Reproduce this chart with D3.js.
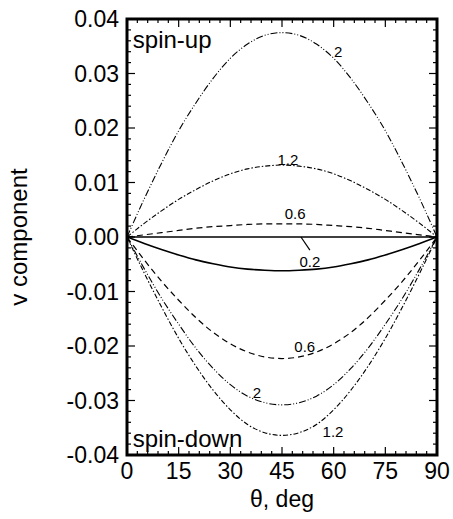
<!DOCTYPE html>
<html>
<head>
<meta charset="utf-8">
<script src="https://cdn.jsdelivr.net/npm/d3@7"></script>
<style>
  body { margin: 0; background: #fff; }
  text { font-family: "Liberation Sans", Arial, Helvetica, sans-serif; fill: #000; }
</style>
</head>
<body>
<svg id="chart"></svg>
<script>
// theta samples (deg) and v component per curve
const theta = [0, 5, 10, 15, 20, 25, 30, 35, 40, 45, 50, 55, 60, 65, 70, 75, 80, 85, 90];

const up2   = [0, 0.0070, 0.0135, 0.0195, 0.0246, 0.0291, 0.0328, 0.0354, 0.0370, 0.0375, 0.0370, 0.0354, 0.0328, 0.0291, 0.0246, 0.0195, 0.0135, 0.0070, 0];
const up12  = [0, 0.0025, 0.0048, 0.0069, 0.0087, 0.0103, 0.0116, 0.0125, 0.0130, 0.0132, 0.0130, 0.0125, 0.0116, 0.0103, 0.0087, 0.0069, 0.0048, 0.0025, 0];
const up06  = [0, 0.0004, 0.0008, 0.0012, 0.0016, 0.0019, 0.0021, 0.0023, 0.0024, 0.0024, 0.0024, 0.0023, 0.0021, 0.0019, 0.0016, 0.0012, 0.0008, 0.0004, 0];
const up02  = [0, 0.0000, 0.0000, 0.0000, 0.0000, 0.0000, 0.0000, 0.0000, 0.0000, 0.0000, 0.0000, 0.0000, 0.0000, 0.0000, 0.0000, 0.0000, 0.0000, 0.0000, 0];
const dn02  = [0, -0.0012, -0.0023, -0.0033, -0.0042, -0.0049, -0.0055, -0.0059, -0.0061, -0.0062, -0.0061, -0.0059, -0.0055, -0.0049, -0.0042, -0.0033, -0.0023, -0.0012, 0];
const dn06  = [0, -0.0042, -0.0081, -0.0116, -0.0148, -0.0175, -0.0196, -0.0211, -0.0220, -0.0223, -0.0220, -0.0211, -0.0196, -0.0175, -0.0148, -0.0116, -0.0081, -0.0042, 0];
const dn2   = [0, -0.0058, -0.0112, -0.0160, -0.0204, -0.0241, -0.0271, -0.0292, -0.0304, -0.0308, -0.0304, -0.0292, -0.0271, -0.0241, -0.0204, -0.0160, -0.0112, -0.0058, 0];
const dn12  = [0, -0.0066, -0.0128, -0.0186, -0.0237, -0.0281, -0.0317, -0.0344, -0.0359, -0.0364, -0.0359, -0.0344, -0.0317, -0.0281, -0.0237, -0.0186, -0.0128, -0.0066, 0];

const xTicks = [0, 15, 30, 45, 60, 75, 90];
const yTicks = [-0.04, -0.03, -0.02, -0.01, 0, 0.01, 0.02, 0.03, 0.04];

// curve label text, anchor theta and v
const labelText  = ["2", "1.2", "0.6", "0.2", "0.6", "2", "1.2"];
const labelTheta = [61.3, 46.7, 48.8, 53.1, 51.6, 37.7, 59.8];
const labelV     = [0.0330, 0.0132, 0.0033, -0.0055, -0.0211, -0.0295, -0.0367];

const series = [
  { values: up2,  dash: "7,2,1,2,1,2", width: 1.1 },
  { values: up12, dash: "5,2,1.5,2", width: 1.1 },
  { values: up06, dash: "6,4", width: 1.2 },
  { values: up02, dash: null, width: 1.6 },
  { values: dn02, dash: null, width: 1.6 },
  { values: dn06, dash: "6,4", width: 1.2 },
  { values: dn2,  dash: "7,2,1,2,1,2", width: 1.1 },
  { values: dn12, dash: "5,2,1.5,2", width: 1.1 }
];

const W = 453, H = 519;
const margin = { top: 19, right: 16, bottom: 64, left: 127 };
const width = W - margin.left - margin.right;
const height = H - margin.top - margin.bottom;

const svg = d3.select("#chart").attr("width", W).attr("height", H);
const g = svg.append("g").attr("transform", `translate(${margin.left},${margin.top})`);

const x = d3.scaleLinear().domain([0, 90]).range([0, width]);
const y = d3.scaleLinear().domain([-0.04, 0.04]).range([height, 0]);

g.append("clipPath").attr("id", "clip")
  .append("rect").attr("width", width).attr("height", height);

// minor + major ticks, pointing inward on all four sides
const xMinor = d3.range(0, 91, 3);
const yMinor = d3.range(-40, 41, 2).map(d => d / 1000);

const tickG = g.append("g").attr("stroke", "#000").attr("stroke-width", 1.2);
xMinor.forEach(t => {
  const len = t % 15 === 0 ? 8 : 4;
  tickG.append("line").attr("x1", x(t)).attr("x2", x(t)).attr("y1", height).attr("y2", height - len);
  tickG.append("line").attr("x1", x(t)).attr("x2", x(t)).attr("y1", 0).attr("y2", len);
});
yMinor.forEach(t => {
  const len = Math.abs(Math.round(t * 1000)) % 10 === 0 ? 8 : 4;
  tickG.append("line").attr("y1", y(t)).attr("y2", y(t)).attr("x1", 0).attr("x2", len);
  tickG.append("line").attr("y1", y(t)).attr("y2", y(t)).attr("x1", width).attr("x2", width - len);
});

// tick labels
g.selectAll(".xlab").data(xTicks).join("text")
  .attr("x", d => x(d)).attr("y", height + 24)
  .attr("text-anchor", "middle").attr("font-size", 23)
  .text(d => d);

const fmt = d3.format(".2f");
g.selectAll(".ylab").data(yTicks).join("text")
  .attr("x", -8).attr("y", d => y(d) + 8)
  .attr("text-anchor", "end").attr("font-size", 23)
  .text(d => fmt(d).replace("\u2212", "-"));

// curves
const line = d3.line().x((d, i) => x(theta[i])).y(d => y(d)).curve(d3.curveMonotoneX);
g.append("g").attr("clip-path", "url(#clip)")
  .selectAll("path").data(series).join("path")
  .attr("d", d => line(d.values))
  .attr("fill", "none").attr("stroke", "#000")
  .attr("stroke-width", d => d.width)
  .attr("stroke-dasharray", d => d.dash);

// curve labels
g.selectAll(".clab").data(labelText).join("text")
  .attr("x", (d, i) => x(labelTheta[i])).attr("y", (d, i) => y(labelV[i]))
  .attr("text-anchor", "middle").attr("font-size", 15)
  .text(d => d);

// leader line for the 0.2 spin-up curve
g.append("line")
  .attr("x1", x(50.5)).attr("y1", y(0))
  .attr("x2", x(53.1)).attr("y2", y(-0.0024))
  .attr("stroke", "#000").attr("stroke-width", 1.2);

// regime labels
g.append("text").attr("x", x(1.7)).attr("y", y(0.0347)).attr("font-size", 24).text("spin-up");
g.append("text").attr("x", x(1.7)).attr("y", y(-0.0385)).attr("font-size", 24).text("spin-down");

// frame
g.append("rect").attr("width", width).attr("height", height)
  .attr("fill", "none").attr("stroke", "#000").attr("stroke-width", 3);

// axis titles
svg.append("text")
  .attr("x", margin.left + width / 2).attr("y", 507)
  .attr("text-anchor", "middle").attr("font-size", 23)
  .text("θ, deg");

svg.append("text")
  .attr("transform", `translate(27,${margin.top + height / 2}) rotate(-90)`)
  .attr("text-anchor", "middle").attr("font-size", 24)
  .text("v component");
</script>
</body>
</html>
